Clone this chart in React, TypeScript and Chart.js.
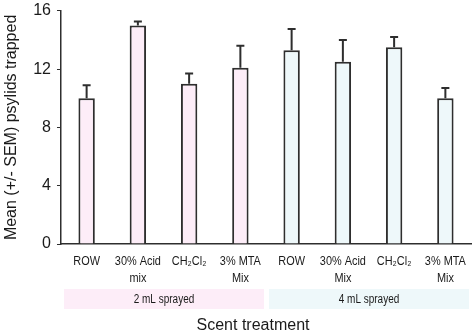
import React, { useEffect, useRef } from "react";
import { Chart, registerables } from "chart.js";

Chart.register(...registerables);

const CATEGORIES: string[][] = [
  ["ROW"],
  ["30% Acid", "mix"],
  ["CH₂Cl₂"],
  ["3% MTA", "Mix"],
  ["ROW"],
  ["30% Acid", "Mix"],
  ["CH₂Cl₂"],
  ["3% MTA", "Mix"],
];
const MEANS: number[] = [10.0, 15.0, 11.0, 12.1, 13.3, 12.5, 13.5, 10.0];
const SEM: number[] = [0.9, 0.27, 0.7, 1.5, 1.45, 1.5, 0.7, 0.7];
const GROUPS: string[] = ["2 mL sprayed", "4 mL sprayed"];
const GROUP_SIZE = 4;
const Y_TICKS: number[] = [0, 4, 8, 12, 16];

const PINK = "#fdedf8";
const BLUE = "#eef8fa";
const DARK = "#2e2e2e";
const TEXT = "#1a1a1a";
const SANS = "'Liberation Sans', Arial, sans-serif";

function narrowText(ctx: any, text: string, x: number, y: number, squeeze: number) {
  ctx.save();
  ctx.translate(x, y);
  ctx.scale(squeeze, 1);
  ctx.fillText(text, 0, 0);
  ctx.restore();
}

const errorBarPlugin = {
  id: "errorBars",
  afterDatasetsDraw(chart: any) {
    const ctx = chart.ctx;
    const xs = chart.scales.x;
    const ys = chart.scales.y;
    ctx.save();
    ctx.strokeStyle = DARK;
    ctx.lineWidth = 2;
    MEANS.forEach((m, i) => {
      const x = xs.getPixelForValue(i);
      const y0 = ys.getPixelForValue(m);
      const y1 = ys.getPixelForValue(m + SEM[i]);
      ctx.beginPath();
      ctx.moveTo(x, y0);
      ctx.lineTo(x, y1);
      ctx.moveTo(x - 4, y1);
      ctx.lineTo(x + 4, y1);
      ctx.stroke();
    });
    ctx.restore();
  },
};

const labelsPlugin = {
  id: "groupBands",
  afterDraw(chart: any) {
    const ctx = chart.ctx;
    const xs = chart.scales.x;
    const area = chart.chartArea;
    const step = xs.width / CATEGORIES.length;
    ctx.save();
    ctx.fillStyle = TEXT;
    ctx.font = "13px " + SANS;
    ctx.textAlign = "center";
    ctx.textBaseline = "middle";
    CATEGORIES.forEach((lines, i) => {
      const x = xs.getPixelForValue(i);
      lines.forEach((t, li) => narrowText(ctx, t, x, area.bottom + 17 + li * 17, 0.84));
    });
    const top = area.bottom + 45;
    const h = 20;
    GROUPS.forEach((g, gi) => {
      const first = gi * GROUP_SIZE;
      const last = first + GROUP_SIZE - 1;
      const l = xs.getPixelForValue(first) - step / 2 + 3;
      const r = xs.getPixelForValue(last) + step / 2 - 2;
      ctx.fillStyle = gi === 0 ? PINK : BLUE;
      ctx.fillRect(l, top, r - l, h);
      ctx.fillStyle = TEXT;
      ctx.font = "12.5px " + SANS;
      narrowText(ctx, g, (l + r) / 2, top + h / 2 + 1, 0.8);
    });
    ctx.fillStyle = TEXT;
    ctx.font = "16px " + SANS;
    ctx.fillText("Scent treatment", 253, area.bottom + 82);
    ctx.restore();
  },
};

export default function App() {
  const ref = useRef<HTMLCanvasElement>(null);
  useEffect(() => {
    document.body.style.margin = "0";
    const chart = new Chart(ref.current as HTMLCanvasElement, {
      type: "bar",
      data: {
        labels: CATEGORIES,
        datasets: [
          {
            data: MEANS,
            backgroundColor: MEANS.map((_, i) => (i < GROUP_SIZE ? PINK : BLUE)),
            borderColor: DARK,
            borderWidth: 2,
            barPercentage: 0.32,
            categoryPercentage: 1,
          },
        ],
      },
      options: {
        responsive: false,
        animation: false,
        layout: { padding: { top: 0, right: 3, left: 2, bottom: 90 } },
        plugins: { legend: { display: false }, tooltip: { enabled: false } },
        scales: {
          x: {
            grid: { display: false, drawTicks: false },
            border: { display: true, color: DARK, width: 1.5 },
            ticks: { display: false },
          },
          y: {
            min: 0,
            max: 16,
            afterBuildTicks: (axis: any) => {
              axis.ticks = Y_TICKS.map((v) => ({ value: v }));
            },
            grid: { drawOnChartArea: false, drawTicks: true, tickLength: 4, color: DARK, lineWidth: 1 },
            border: { display: true, color: DARK, width: 1.5 },
            ticks: { color: TEXT, padding: 6, font: { family: SANS, size: 16, lineHeight: 0.6 } },
            title: {
              display: true,
              text: "Mean (+/- SEM) psylids trapped",
              color: TEXT,
              font: { family: SANS, size: 16 },
              padding: { top: 0, bottom: 6 },
            },
          },
        },
      },
      plugins: [errorBarPlugin, labelsPlugin],
    } as any);
    return () => chart.destroy();
  }, []);
  return (
    <div style={{ width: 474, height: 334 }}>
      <canvas ref={ref} width={474} height={334} style={{ display: "block" }} />
    </div>
  );
}
